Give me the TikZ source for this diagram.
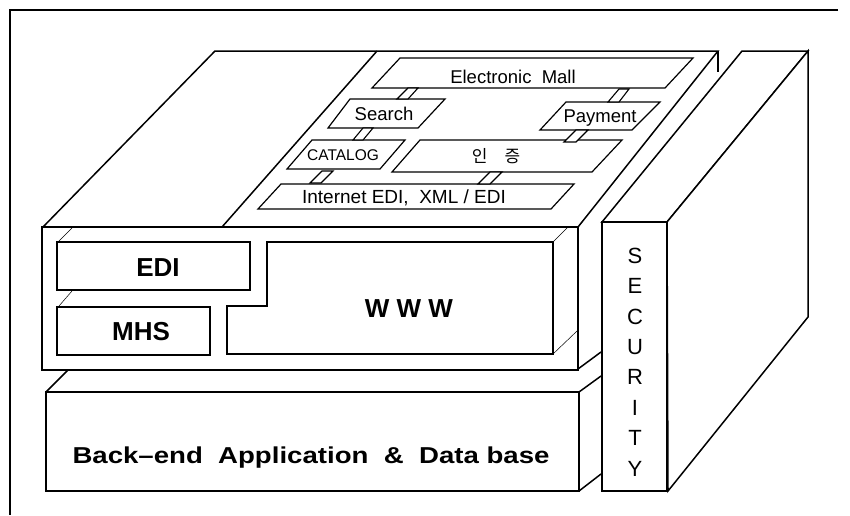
\documentclass[tikz,border=0pt]{standalone}
\usepackage{fontspec}
\setmainfont{Liberation Sans}
\newfontfamily\krfont{Noto Sans CJK KR}
\begin{document}
\begin{tikzpicture}[x=1pt,y=-1pt,
  edge/.style={line width=1.5pt, line join=miter},
  part/.style={line width=1.2pt, fill=white},
  faint/.style={line width=0.5pt},
  link/.style={line width=1.1pt, fill=white},
  lbl/.style={anchor=base, inner sep=0pt, font=\fontsize{18.5}{21}\selectfont},
  big/.style={anchor=base, inner sep=0pt, font=\fontsize{26}{30}\selectfont\bfseries},
]
\useasboundingbox (0,0) rectangle (850,515);
% outer frame (top and left)
\draw[line width=1.4pt] (838,10) -- (10,10) -- (10,515);

% ---- main block ----
\draw[edge, fill=white] (215,51) -- (718,51) -- (578,227) -- (43,227) -- cycle;
\draw[edge] (377,51) -- (222,227);
\draw[edge] (718,51) -- (718,72);
\draw[edge, fill=white] (42,227) rectangle (578,370);
\draw[edge] (578,369) -- (601,352);

% recess hints
\draw[faint] (72,228) -- (58,242);
\draw[faint] (72,291) -- (59,306);
\draw[faint] (568,227) -- (553,242);
\draw[faint] (577,331) -- (553,354);

% front boxes
\draw[part] (57,242) rectangle (250,290);
\draw[part] (57,307) rectangle (210,355);
\draw[part] (267,242) -- (553,242) -- (553,354) -- (227,354) -- (227,306) -- (267,306) -- cycle;
\node[big] (edi) at (158,276) {EDI};
\node[big] (mhs) at (141,340) {MHS};
\node[big] (www) at (409,317) {W W W};

% top-face components
\draw[part] (372,88) -- (665,88) -- (693,58) -- (400,58) -- cycle;
\draw[part] (328,128) -- (418,128) -- (445,99) -- (350,99) -- cycle;
\draw[part] (540,130) -- (632,130) -- (660,102) -- (566,102) -- cycle;
\draw[part] (287,169) -- (380,169) -- (405,140) -- (312,140) -- cycle;
\draw[part] (392,172) -- (592,172) -- (622,140) -- (420,140) -- cycle;
\draw[part] (258,209) -- (551,209) -- (574,184) -- (281,184) -- cycle;

% small links
\draw[link] (397,99) -- (408,99) -- (418,88) -- (408,88) -- cycle;
\draw[link] (608,102) -- (619,102) -- (629,89) -- (619,89) -- cycle;
\draw[link] (353,140) -- (363,140) -- (373,128) -- (363,128) -- cycle;
\draw[link] (564,142) -- (576,142) -- (588,130) -- (576,130) -- cycle;
\draw[link] (478,184) -- (490,184) -- (502,172) -- (490,172) -- cycle;
\draw[link] (310,183) -- (321,183) -- (333,171) -- (322,171) -- cycle;

\node[lbl] (mall) at (513,83) {Electronic\ \ Mall};
\node[lbl] (search) at (384,120) {Search};
\node[lbl] (pay) at (600,122) {Payment};
\node[lbl, font=\fontsize{15.5}{18}\selectfont] (cat) at (343,160) {CATALOG};
\node[inner sep=0pt, font=\krfont\fontsize{17}{19}\selectfont] (auth) at (496,156) {인\quad 증};
\node[lbl, font=\fontsize{19}{21}\selectfont] (iedi) at (404,203) {Internet EDI,\ \ XML / EDI};

% ---- back-end block ----
\draw[edge, fill=white] (46,392) rectangle (579,491);
\draw[edge] (46,392) -- (68,370);
\draw[edge] (579,392) -- (601,376);
\draw[edge] (579,491) -- (601,474);
\node[anchor=base, inner sep=0pt, font=\fontsize{23}{28}\selectfont\bfseries] (back) at (311,463) {\scalebox{1.2}[1]{Back–end\ \ Application\ \ \&\ \ Data base}};

% ---- security block ----
\draw[edge, fill=white] (602,222) -- (742,51) -- (808,51) -- (667,222) -- cycle;
\draw[edge, fill=white] (667,222) -- (808,51) -- (808,317) -- (668,491) -- cycle;
\draw[edge, fill=white] (602,222) rectangle (667,491);
\node[inner sep=0pt, align=center, font=\fontsize{22}{30.4}\selectfont] (sec) at (635,362) {S\\E\\C\\U\\R\\I\\T\\Y};
\end{tikzpicture}
\end{document}
